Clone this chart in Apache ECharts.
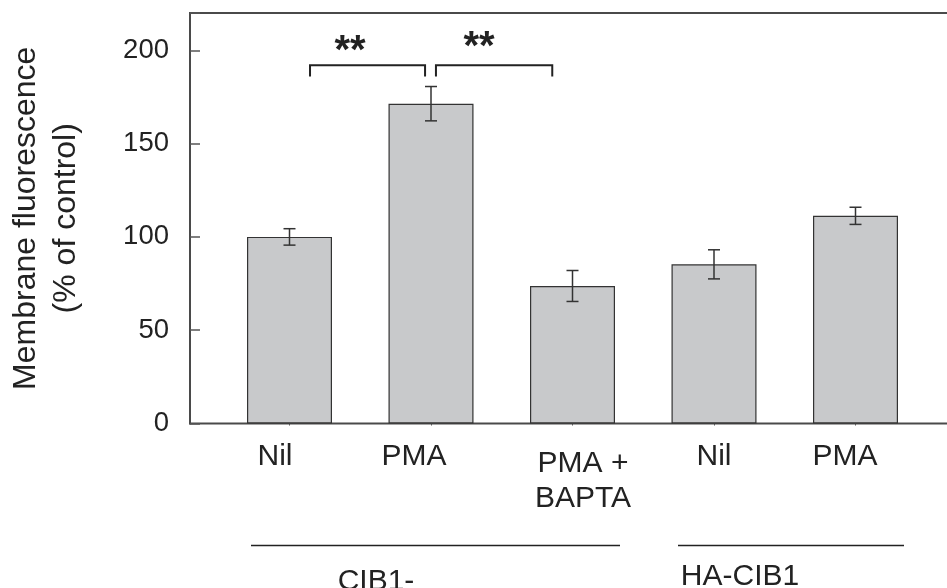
<!DOCTYPE html>
<html><head><meta charset="utf-8">
<script src="https://cdn.jsdelivr.net/npm/echarts@6/dist/echarts.min.js"></script>
<style>html,body{margin:0;padding:0;background:#fff}#c{width:947px;height:588px}</style>
</head><body><div id="c"></div>
<script>
// ---- data ----
const categories = ['Nil', 'PMA', 'PMA +\nBAPTA', 'Nil', 'PMA'];
const means = [100, 171.4, 73.7, 85.3, 111.3];
const errors = [4.4, 9.2, 8.3, 7.8, 4.6];
const yTicks = [0, 50, 100, 150, 200];
const groupLabels = ['CIB1-', 'HA-CIB1'];
const yTitle = 'Membrane fluorescence\n(% of control)';
// significance brackets (category units, value units)
const bracketStart = [0.145, 1.035];
const bracketEnd = [0.958, 1.857];
const bracketTop = [192, 192];
const bracketFoot = [186, 186];
const sigLabels = ['**', '**'];
const sigLabelX = [0.428, 1.339];
const sigLabelY = [199, 201.5];

// ---- layout ----
const FONT = '"Liberation Sans", Arial, sans-serif';
const TOP = 13, BOTTOM = 588 - 423.5;
const TXT = '#222';
const labelCenters = [275, 414, 583, 714, 845];

const chart = echarts.init(document.getElementById('c'), null, {renderer: 'canvas'});

const graphics = [];
categories.forEach((c, i) => {
  const twoLine = c.indexOf('\n') >= 0;
  graphics.push({
    type: 'text', x: labelCenters[i], y: twoLine ? 446 : 457,
    style: {text: c, fontSize: 30, fontFamily: FONT, fill: TXT, align: 'center',
            verticalAlign: twoLine ? 'top' : 'middle', lineHeight: 35}
  });
});
// group lines & labels
const groupLineX = [[251, 620], [678, 904]];
const groupLabelX = [376, 740];
const groupLabelY = [582, 577];
groupLabels.forEach((g, i) => {
  graphics.push({type: 'line', shape: {x1: groupLineX[i][0], y1: 545.5, x2: groupLineX[i][1], y2: 545.5},
    style: {stroke: '#222', lineWidth: 1.5}});
  graphics.push({type: 'text', x: groupLabelX[i], y: groupLabelY[i],
    style: {text: g, fontSize: 30, fontFamily: FONT, fill: TXT, align: 'center', verticalAlign: 'middle'}});
});

const option = {
  animation: false,
  backgroundColor: '#fff',
  grid: [
    {left: 190, right: -2, top: TOP, bottom: BOTTOM, show: true, borderColor: '#4a4a4a', borderWidth: 2,
     backgroundColor: 'transparent', containLabel: false, outerBoundsMode: 'none'},
    {left: 218.75, right: 20.75, top: TOP, bottom: BOTTOM, containLabel: false, outerBoundsMode: 'none'}
  ],
  xAxis: [
    {gridIndex: 0, type: 'value', min: 0, max: 1, show: false},
    {gridIndex: 1, type: 'category', data: categories,
     axisLine: {show: false}, splitLine: {show: false},
     axisTick: {show: true, alignWithLabel: true, length: 2, lineStyle: {color: '#555'}},
     axisLabel: {show: false}}
  ],
  yAxis: [
    {gridIndex: 0, type: 'value', min: 0, max: 220, interval: 50,
     axisLine: {show: true, lineStyle: {color: '#4a4a4a', width: 2}},
     axisTick: {show: true, inside: true, length: 10, lineStyle: {color: '#555', width: 1.5}},
     splitLine: {show: false},
     axisLabel: {fontSize: 27.5, color: TXT, margin: 21, fontFamily: FONT,
       formatter: v => yTicks.includes(v) ? String(v) : ''},
     name: yTitle, nameLocation: 'middle', nameGap: 104, nameRotate: 90,
     nameTextStyle: {fontSize: 32, lineHeight: 40, color: TXT, fontFamily: FONT, align: 'center'}},
    {gridIndex: 1, type: 'value', min: 0, max: 220, show: false}
  ],
  series: [
    {type: 'bar', xAxisIndex: 1, yAxisIndex: 1, data: means, barWidth: 85,
     itemStyle: {color: '#c8c9cb', borderColor: '#333', borderWidth: 1.2}},
    {type: 'custom', xAxisIndex: 1, yAxisIndex: 1, z: 5,
     data: means.map((m, i) => [i, m, errors[i]]),
     encode: {x: 0, y: 1},
     renderItem: (params, api) => {
       const i = api.value(0), m = api.value(1), e = api.value(2);
       const hi = api.coord([i, m + e]), lo = api.coord([i, m - e]);
       const w = 6;
       const st = {stroke: '#333', lineWidth: 1.5};
       return {type: 'group', children: [
         {type: 'line', shape: {x1: hi[0], y1: hi[1], x2: lo[0], y2: lo[1]}, style: st},
         {type: 'line', shape: {x1: hi[0] - w, y1: hi[1], x2: hi[0] + w, y2: hi[1]}, style: st},
         {type: 'line', shape: {x1: lo[0] - w, y1: lo[1], x2: lo[0] + w, y2: lo[1]}, style: st}
       ]};
     }},
    {type: 'custom', xAxisIndex: 1, yAxisIndex: 1, z: 5,
     data: bracketStart.map((s, i) => [s, bracketEnd[i], bracketTop[i], bracketFoot[i], sigLabelX[i], sigLabelY[i]]),
     renderItem: (params, api) => {
       const idx = params.dataIndex;
       const band = api.size([1, 0])[0];
       const base = api.coord([0, api.value(2)]);
       const x1 = base[0] + api.value(0) * band;
       const x2 = base[0] + api.value(1) * band;
       const yt = base[1];
       const yf = api.coord([0, api.value(3)])[1];
       const lp = api.coord([0, api.value(5)]);
       const lx = lp[0] + api.value(4) * band;
       return {type: 'group', children: [
         {type: 'polyline', shape: {points: [[x1, yf], [x1, yt], [x2, yt], [x2, yf]]},
          style: {stroke: '#222', lineWidth: 2, fill: null}},
         {type: 'text', x: lx, y: lp[1],
          style: {text: sigLabels[idx], fontSize: 40, fontWeight: 'bold', fontFamily: FONT,
                  fill: '#222', align: 'center', verticalAlign: 'middle'}}
       ]};
     }}
  ],
  graphic: graphics
};
chart.setOption(option);
</script>
</body></html>
